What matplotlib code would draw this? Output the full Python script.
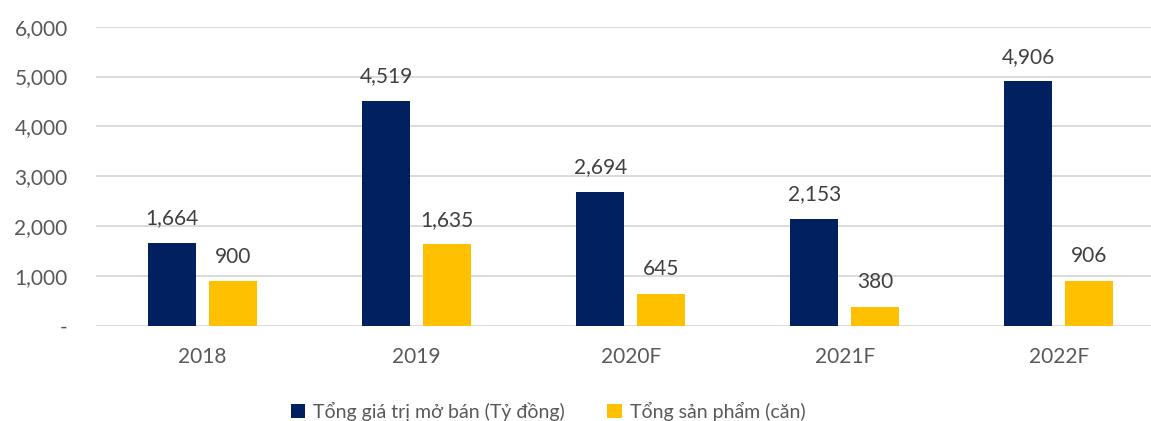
import matplotlib
matplotlib.use("Agg")
import matplotlib.pyplot as plt
import numpy as np
from matplotlib.ticker import FuncFormatter

categories = ["2018", "2019", "2020F", "2021F", "2022F"]
value_total = [1664, 4519, 2694, 2153, 4906]
units_total = [900, 1635, 645, 380, 906]
series_names = ["Tổng giá trị mở bán (Tỷ đồng)", "Tổng sản phẩm (căn)"]
y_ticks = [0, 1000, 2000, 3000, 4000, 5000, 6000]

plt.rcParams['font.family'] = ['Lato', 'DejaVu Sans']

W, H = 1151, 421
fig = plt.figure(figsize=(W/100, H/100), dpi=100)
left, right, top, bottom = 95.5, 1166, 26.7, 326
ax = fig.add_axes([left/W, (H-bottom)/H, (right-left)/W, (bottom-top)/H])

x = np.arange(len(categories))
bw = 0.224
off = 0.1425
navy = "#002060"
yellow = "#FFC000"
b1 = ax.bar(x - off, value_total, bw, color=navy, label=series_names[0], zorder=3)
b2 = ax.bar(x + off, units_total, bw, color=yellow, label=series_names[1], zorder=3)

for bars, vals in ((b1, value_total), (b2, units_total)):
    for rect, v in zip(bars, vals):
        ax.annotate(f"{v:,}", (rect.get_x() + rect.get_width()/2, v),
                    xytext=(0, 10.5), textcoords="offset points",
                    ha="center", va="bottom", fontsize=15, color="#404040")

ax.set_xlim(-0.5, len(categories) - 0.5)
ax.set_ylim(0, 6000)
ax.set_yticks(y_ticks)
ax.yaxis.set_major_formatter(FuncFormatter(lambda v, p: "-" if v == 0 else f"{int(v):,}"))
ax.set_xticks(x)
ax.set_xticklabels(categories)
ax.tick_params(axis='y', length=0, pad=20, labelsize=15, labelcolor="#595959")
ax.tick_params(axis='x', length=0, pad=15, labelsize=15, labelcolor="#595959")
ax.grid(axis='y', color="#D9D9D9", linewidth=1.3, zorder=0)
for s in ax.spines.values():
    s.set_visible(False)

fig.legend(handles=[b1, b2], labels=series_names, loc="center",
           bbox_to_anchor=(548/W, 1 - 411/H), ncol=2, frameon=False,
           fontsize=14, labelcolor="#595959", handlelength=0.75, handleheight=0.75,
           handletextpad=0.4, columnspacing=2.2)

fig.savefig("out.png", dpi=100)
